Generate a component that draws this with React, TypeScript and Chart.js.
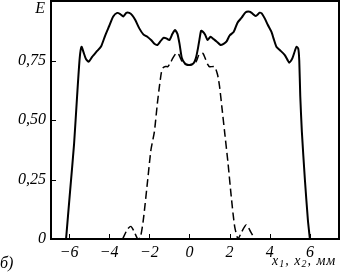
import React, { useEffect, useRef } from "react";
import { Chart, registerables } from "chart.js";
Chart.register(...registerables);

const solidX = [-6.15, -5.95, -5.75, -5.6, -5.47, -5.38, -5.28, -5.15, -5.02, -4.85, -4.6, -4.4, -4.2, -4.0, -3.8, -3.6, -3.45, -3.3, -3.15, -3.0, -2.85, -2.7, -2.5, -2.3, -2.1, -1.9, -1.75, -1.6, -1.45, -1.3, -1.15, -1.0, -0.85, -0.72, -0.6, -0.5, -0.38, -0.25, -0.1, 0.05, 0.2, 0.32, 0.42, 0.5, 0.58, 0.68, 0.78, 0.9, 1.05, 1.2, 1.35, 1.55, 1.7, 1.85, 2.0, 2.2, 2.4, 2.6, 2.8, 3.0, 3.1, 3.3, 3.5, 3.6, 3.75, 3.9, 4.08, 4.2, 4.33, 4.5, 4.75, 4.9, 4.97, 5.05, 5.13, 5.25, 5.33, 5.42, 5.47, 5.52, 5.6, 5.75, 5.9, 6.0];
const solidY = [0, 0.2, 0.4, 0.6, 0.76, 0.808, 0.785, 0.755, 0.745, 0.765, 0.79, 0.81, 0.855, 0.895, 0.935, 0.95, 0.945, 0.935, 0.95, 0.95, 0.94, 0.92, 0.885, 0.86, 0.85, 0.835, 0.82, 0.815, 0.83, 0.845, 0.843, 0.836, 0.862, 0.878, 0.862, 0.822, 0.76, 0.74, 0.732, 0.732, 0.738, 0.76, 0.8, 0.84, 0.875, 0.87, 0.858, 0.836, 0.85, 0.84, 0.83, 0.815, 0.82, 0.83, 0.855, 0.87, 0.91, 0.93, 0.953, 0.955, 0.95, 0.937, 0.951, 0.948, 0.927, 0.9, 0.871, 0.84, 0.808, 0.794, 0.773, 0.75, 0.741, 0.748, 0.76, 0.79, 0.808, 0.8, 0.75, 0.6, 0.45, 0.25, 0.08, 0];

const dashedX = [-3.33, -3.1, -2.92, -2.75, -2.58, -2.45, -2.3, -2.08, -1.92, -1.75, -1.6, -1.5, -1.4, -1.33, -1.2, -1.08, -0.95, -0.83, -0.67, -0.55, -0.45, -0.33, -0.15, 0.0, 0.15, 0.33, 0.45, 0.55, 0.67, 0.78, 0.9, 1.0, 1.25, 1.4, 1.5, 1.62, 1.75, 1.92, 2.08, 2.25, 2.42, 2.6, 2.83, 3.05, 3.25];
const dashedY = [0, 0.04, 0.053, 0.03, 0, 0.005, 0.08, 0.25, 0.375, 0.45, 0.57, 0.64, 0.7, 0.718, 0.725, 0.724, 0.74, 0.76, 0.78, 0.778, 0.76, 0.739, 0.732, 0.73, 0.733, 0.745, 0.77, 0.78, 0.78, 0.76, 0.735, 0.724, 0.724, 0.69, 0.64, 0.55, 0.45, 0.319, 0.179, 0.053, 0, 0.03, 0.06, 0.03, 0];

const xTicks = [-6, -4, -2, 0, 2, 4, 6];
const yTicks = [0, 0.25, 0.5, 0.75];
const yTickLabels = ["0", "0,25", "0,50", "0,75"];
const yAxisTitle = "E";
const panelLabel = "б)";

const FONT = "'Liberation Serif', 'DejaVu Serif', serif";

function noPad(s: any) {
  s.paddingTop = 0;
  s.paddingBottom = 0;
  s.paddingLeft = 0;
  s.paddingRight = 0;
}

export default function App() {
  const ref = useRef<HTMLCanvasElement>(null);
  useEffect(() => {
    document.body.style.margin = "0";
    const deco = {
      id: "deco",
      afterDraw(chart: any) {
        const { ctx, chartArea: a, scales } = chart;
        ctx.save();
        ctx.strokeStyle = "#000";
        ctx.lineWidth = 2;
        ctx.strokeRect(a.left, a.top, a.right - a.left, a.bottom - a.top);
        ctx.lineWidth = 1;
        xTicks.forEach((v) => {
          const px = Math.round(scales.x.getPixelForValue(v)) + 0.5;
          ctx.beginPath();
          ctx.moveTo(px, a.bottom);
          ctx.lineTo(px, a.bottom - 5);
          ctx.stroke();
        });
        yTicks.forEach((v) => {
          const py = Math.round(scales.y.getPixelForValue(v)) + 0.5;
          ctx.beginPath();
          ctx.moveTo(a.left, py);
          ctx.lineTo(a.left + 5, py);
          ctx.stroke();
        });
        ctx.fillStyle = "#000";
        ctx.font = `italic 16px ${FONT}`;
        ctx.textAlign = "right";
        ctx.textBaseline = "middle";
        ctx.fillText(yAxisTitle, a.left - 6, 9);
        ctx.textAlign = "left";
        ctx.fillText(panelLabel, 0, 264);
        ctx.textBaseline = "alphabetic";
        (ctx as any).letterSpacing = "1px";
        let x = 272;
        const base = 265;
        const parts: [string, boolean][] = [["x", false], ["1", true], [", x", false], ["2", true], [", мм", false]];
        parts.forEach(([t, sub]) => {
          ctx.font = sub ? `italic 10px ${FONT}` : `italic 14px ${FONT}`;
          ctx.fillText(t, x, sub ? base + 2 : base);
          x += ctx.measureText(t).width;
        });
        ctx.restore();
      },
    };
    const chart = new Chart(ref.current!, {
      type: "line",
      data: {
        datasets: [
          {
            data: solidX.map((x, i) => ({ x, y: solidY[i] })),
            borderColor: "#000",
            borderWidth: 2,
            pointRadius: 0,
            tension: 0.2,
          },
          {
            data: dashedX.map((x, i) => ({ x, y: dashedY[i] })),
            borderColor: "#000",
            borderWidth: 1.5,
            borderDash: [8, 4],
            pointRadius: 0,
            tension: 0.2,
          },
        ],
      },
      options: {
        animation: false,
        responsive: false,
        layout: { padding: { top: 1, right: 4, left: 0, bottom: 0 } },
        plugins: { legend: { display: false }, tooltip: { enabled: false } },
        scales: {
          x: {
            type: "linear",
            min: -6.9,
            max: 7.45,
            grid: { display: false, drawTicks: false },
            border: { display: false },
            afterBuildTicks: (s: any) => {
              s.ticks = xTicks.map((v) => ({ value: v }));
            },
            afterFit: (s: any) => {
              s.height = 36;
              noPad(s);
            },
            ticks: {
              color: "#000",
              padding: 4,
              maxRotation: 0,
              autoSkip: false,
              font: { family: FONT, size: 16, style: "italic" },
              callback: (v: any) => (v < 0 ? "\u2212" + Math.abs(v) : String(v)),
            },
          },
          y: {
            type: "linear",
            min: 0,
            max: 1,
            grid: { display: false, drawTicks: false },
            border: { display: false },
            afterBuildTicks: (s: any) => {
              s.ticks = yTicks.map((v) => ({ value: v }));
            },
            afterFit: (s: any) => {
              s.width = 51;
              noPad(s);
            },
            ticks: {
              color: "#000",
              padding: 5,
              autoSkip: false,
              font: { family: FONT, size: 16, style: "italic" },
              callback: (v: any) => yTickLabels[yTicks.indexOf(v)] ?? "",
            },
          },
        },
      },
      plugins: [deco],
    });
    return () => chart.destroy();
  }, []);
  return (
    <div style={{ position: "absolute", left: 0, top: 0, width: 343, height: 275 }}>
      <canvas ref={ref} width={343} height={275} />
    </div>
  );
}
